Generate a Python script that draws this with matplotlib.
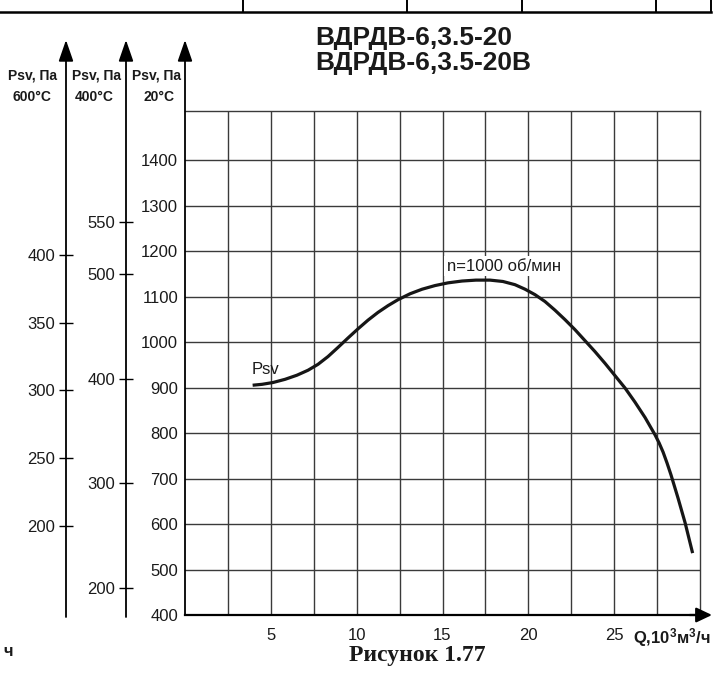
import matplotlib
matplotlib.use("Agg")
import matplotlib.pyplot as plt
from matplotlib import font_manager
from matplotlib.lines import Line2D

# ---- data -------------------------------------------------------------
# Psv(Q) at 20 °C, n = 1000 об/мин
q_flow = [3.94, 4.49, 5.13, 5.83, 6.52, 7.17, 7.75, 8.33, 8.91, 9.50,
          10.08, 10.66, 11.24, 11.83, 12.41, 13.11, 13.81, 14.56, 15.32,
          16.14, 16.95, 17.77, 18.52, 19.22, 19.81, 20.39, 20.97, 21.55,
          22.14, 22.72, 23.30, 23.88, 24.47, 25.05, 25.63, 26.21, 26.80,
          27.38, 27.62, 27.85, 28.08, 28.31, 28.72, 29.13, 29.57]
p_static = [905, 907, 911, 918, 927, 938, 951, 968, 988, 1009,
            1029, 1048, 1065, 1080, 1093, 1106, 1116, 1124, 1130,
            1134, 1136, 1136, 1133, 1126, 1116, 1104, 1089, 1070,
            1049, 1027, 1003, 979, 953, 926, 899, 868, 834,
            796, 778, 758, 734, 708, 657, 603, 536]

x_ticks = [5, 10, 15, 20, 25]
x_grid = [2.5 * i for i in range(1, 12)]
y_ticks_20 = [400, 500, 600, 700, 800, 900, 1000, 1100, 1200, 1300, 1400]
y_ticks_400 = [200, 300, 400, 500, 550]
y_ticks_600 = [200, 250, 300, 350, 400]

# density ratios used to rescale the 20 °C pressure to hot gas
k_400 = 293 / 673
k_600 = 293 / 873

titles = ["ВДРДВ-6,3.5-20", "ВДРДВ-6,3.5-20В"]
caption = "Рисунок 1.77"

# ---- fonts ------------------------------------------------------------
names = {f.name for f in font_manager.fontManager.ttflist}
SANS = "Liberation Sans" if "Liberation Sans" in names else "DejaVu Sans"
NARROW = "Liberation Sans Narrow" if "Liberation Sans Narrow" in names else SANS
SERIF = "Liberation Serif" if "Liberation Serif" in names else "DejaVu Serif"
plt.rcParams["font.family"] = [SANS, "DejaVu Sans"]
plt.rcParams["mathtext.default"] = "regular"

W, H = 719, 681
fig = plt.figure(figsize=(W / 100, H / 100), dpi=100)


def fx(px):
    return px / W


def fy(py):
    return 1 - py / H


# ---- main grid area -----------------------------------------------------
LEFT, RIGHT, BOTTOM, TOP = 185, 700, 615, 111
Y0, Y1 = 400, 1507.7
ax = fig.add_axes([fx(LEFT), fy(BOTTOM), fx(RIGHT) - fx(LEFT), fy(TOP) - fy(BOTTOM)])
ax.set_xlim(0, 30)
ax.set_ylim(Y0, Y1)
for xv in x_grid:
    ax.axvline(xv, color="#3a3a3a", lw=1.0, zorder=1)
for yv in y_ticks_20[1:]:
    ax.axhline(yv, color="#3a3a3a", lw=1.0, zorder=1)
ax.spines["left"].set_visible(False)
for s in ("top", "right"):
    ax.spines[s].set_color("#3a3a3a")
    ax.spines[s].set_linewidth(1.0)
ax.spines["bottom"].set_linewidth(1.6)
ax.set_xticks(x_ticks)
ax.set_xticklabels([str(v) for v in x_ticks])
ax.tick_params(axis="x", length=0, pad=9, labelsize=12, labelcolor="#1a1a1a")
ax.set_yticks([])
ax.annotate("", xy=(1 + 12 / (RIGHT - LEFT), 0), xytext=(0.98, 0),
            xycoords="axes fraction",
            arrowprops=dict(arrowstyle="-|>,head_length=0.95,head_width=0.45",
                            mutation_scale=10, lw=1.6, color="black",
                            shrinkA=0, shrinkB=0), annotation_clip=False)

ax.plot(q_flow, p_static, color="#161616", lw=2.3, solid_capstyle="butt",
        solid_joinstyle="round", zorder=3)
ax.text(3.9, 940, "Psv", fontsize=12, family=[NARROW, "DejaVu Sans"],
        ha="left", va="center", color="#1a1a1a")
ax.text(15.25, 1167, "n=1000 об/мин", fontsize=12, family=[NARROW, "DejaVu Sans"],
        ha="left", va="center", color="#1a1a1a",
        bbox=dict(boxstyle="square,pad=0.15", fc="white", ec="none"), zorder=2)

fig.text(fx(633), fy(638), "Q,10$^3$м$^3$/ч", fontsize=12, fontweight="bold",
         ha="left", va="center", color="#1a1a1a")


# ---- pressure scales with arrows ---------------------------------------
def p_at(py):
    return Y0 + (BOTTOM - py) * (Y1 - Y0) / (BOTTOM - TOP)


def scale_axis(xpx, k, ticks, bottom_px, ticklen, pad):
    a = fig.add_axes([fx(xpx), fy(bottom_px), 0.0005, fy(40) - fy(bottom_px)])
    a.patch.set_visible(False)
    for s in a.spines.values():
        s.set_visible(False)
    a.set_xticks([])
    a.set_ylim(k * p_at(bottom_px), k * p_at(40))
    a.set_yticks(ticks)
    a.set_yticklabels([str(t) for t in ticks])
    a.tick_params(axis="y", direction="inout", length=ticklen, width=1.0,
                  labelsize=12, pad=pad, labelcolor="#1a1a1a")
    a.annotate("", xy=(0, 1), xytext=(0, 0), xycoords="axes fraction",
               arrowprops=dict(arrowstyle="-|>,head_length=1.3,head_width=0.45",
                               mutation_scale=10, lw=1.3, color="black",
                               shrinkA=0, shrinkB=0), annotation_clip=False)
    return a


scale_axis(66, k_600, y_ticks_600, 617, 10, 3)
scale_axis(126, k_400, y_ticks_400, 617, 10, 3)
scale_axis(LEFT, 1.0, y_ticks_20, BOTTOM, 0, 5)

# scale headers
hdr = dict(fontsize=10, fontweight="bold", ha="center", va="center",
           family=[NARROW, "DejaVu Sans"], color="#1a1a1a")
for xc, xt, t in [(32, 32, "600°C"), (97, 94, "400°C"), (157, 159, "20°C")]:
    fig.text(fx(xc), fy(75), "Psv, Па", **hdr)
    fig.text(fx(xt), fy(97), t, **hdr)

# ---- titles and caption ------------------------------------------------
for i, t in enumerate(titles):
    fig.text(fx(315), fy(38 + 25 * i), t, fontsize=19, fontweight="bold",
             ha="left", va="center", color="#1a1a1a")
fig.text(fx(417), fy(656), caption, fontsize=17, fontweight="bold",
         family=[SERIF, "DejaVu Serif"], ha="center", va="center", color="#1a1a1a")
fig.text(fx(8), fy(651), "ч", fontsize=12, fontweight="bold",
         ha="center", va="center", color="#1a1a1a")

# ---- table rule at the top --------------------------------------------
fig.add_artist(Line2D([0, fx(711)], [fy(12), fy(12)], color="black", lw=1.8))
for xv in (243, 407, 522, 656, 711):
    fig.add_artist(Line2D([fx(xv), fx(xv)], [fy(0), fy(12)], color="black", lw=1.4))

fig.savefig("out.png", dpi=100)
